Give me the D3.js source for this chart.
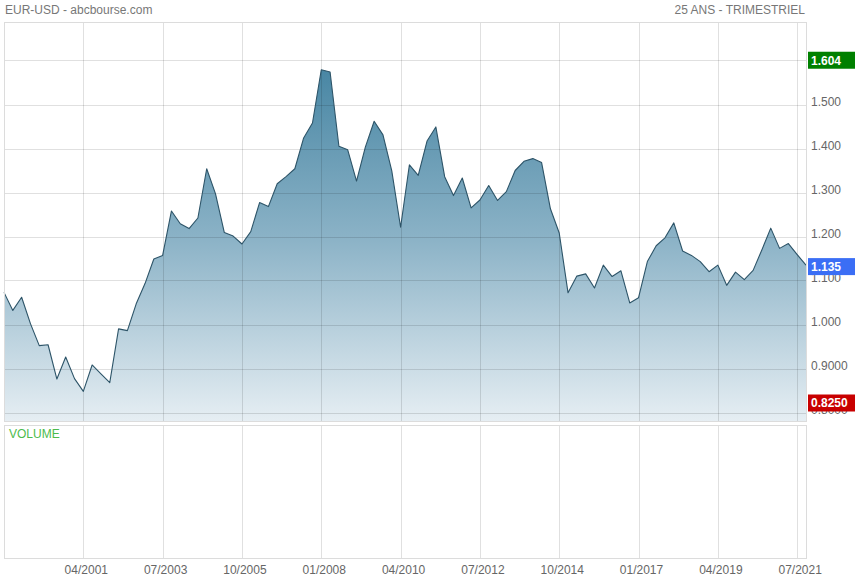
<!DOCTYPE html>
<html><head><meta charset="utf-8">
<script src="https://cdn.jsdelivr.net/npm/d3@7"></script>
<style>html,body{margin:0;padding:0;background:#fff;}svg{display:block;font-family:Arial,"Liberation Sans",sans-serif;}</style>
</head><body><svg id="c" width="855" height="580"></svg>
<script>
const quarters = ["01/1999","04/1999","07/1999","10/1999","01/2000","04/2000","07/2000","10/2000",
"01/2001","04/2001","07/2001","10/2001","01/2002","04/2002","07/2002","10/2002",
"01/2003","04/2003","07/2003","10/2003","01/2004","04/2004","07/2004","10/2004",
"01/2005","04/2005","07/2005","10/2005","01/2006","04/2006","07/2006","10/2006",
"01/2007","04/2007","07/2007","10/2007","01/2008","04/2008","07/2008","10/2008",
"01/2009","04/2009","07/2009","10/2009","01/2010","04/2010","07/2010","10/2010",
"01/2011","04/2011","07/2011","10/2011","01/2012","04/2012","07/2012","10/2012",
"01/2013","04/2013","07/2013","10/2013","01/2014","04/2014","07/2014","10/2014",
"01/2015","04/2015","07/2015","10/2015","01/2016","04/2016","07/2016","10/2016",
"01/2017","04/2017","07/2017","10/2017","01/2018","04/2018","07/2018","10/2018",
"01/2019","04/2019","07/2019","10/2019","01/2020","04/2020","07/2020","10/2020",
"01/2021","04/2021","07/2021","10/2021"];
const closes = [1.073,1.032,1.062,1.002,0.952,0.954,0.876,0.926,
0.877,0.848,0.908,0.888,0.868,0.990,0.986,1.047,
1.093,1.149,1.157,1.258,1.229,1.218,1.242,1.354,
1.297,1.209,1.201,1.183,1.211,1.277,1.268,1.320,
1.336,1.354,1.424,1.458,1.579,1.574,1.405,1.397,
1.326,1.403,1.462,1.431,1.349,1.221,1.363,1.339,
1.417,1.449,1.336,1.293,1.333,1.265,1.283,1.316,
1.282,1.302,1.350,1.371,1.377,1.368,1.263,1.208,
1.072,1.110,1.115,1.083,1.135,1.109,1.122,1.049,
1.061,1.143,1.179,1.197,1.231,1.167,1.157,1.143,
1.120,1.135,1.089,1.119,1.102,1.123,1.170,1.219,
1.173,1.184,1.159,1.135];
const xTicks = ["04/2001","07/2003","10/2005","01/2008","04/2010","07/2012","10/2014","01/2017","04/2019","07/2021"];
const yTicks = [0.8,0.9,1.0,1.1,1.2,1.3,1.4,1.5,1.6];
const yTickLabels = ["0.8000","0.9000","1.000","1.100","1.200","1.300","1.400","1.500",""];
const markers = [{label:"1.604",value:1.604,color:"#008000"},{label:"1.135",value:1.135,color:"#3b6ef5"},{label:"0.8250",value:0.825,color:"#c80000"}];
const titleLeft = "EUR-USD - abcbourse.com";
const titleRight = "25 ANS - TRIMESTRIEL";
const volumeLabel = "VOLUME";

const svg = d3.select("#c");
const L=4.5, R=806.5, T=22.5, B=421.5, VT=425.5, VB=558.5;
const x = d3.scalePoint().domain(quarters).range([4, 806]);
const y = d3.scaleLinear().domain([1.6 - (421-60.5)/440, 1.6 + (60.5-22)/440]).range([421, 22]);

svg.append("text").attr("x",5).attr("y",14).attr("fill","#777").attr("font-size",12).text(titleLeft);
svg.append("text").attr("x",805).attr("y",14).attr("text-anchor","end").attr("fill","#777").attr("font-size",12).text(titleRight);

const defs = svg.append("defs");
const g = defs.append("linearGradient").attr("id","fillg").attr("gradientUnits","userSpaceOnUse")
  .attr("x1",0).attr("y1",60).attr("x2",0).attr("y2",421);
g.append("stop").attr("offset","0").attr("stop-color","#4584a2");
g.append("stop").attr("offset","0.5").attr("stop-color","#8cb3c7");
g.append("stop").attr("offset","1").attr("stop-color","#e6eef3");
defs.append("clipPath").attr("id","clipm").append("rect").attr("x",4).attr("y",22).attr("width",802).attr("height",399);

const area = d3.area().x(d=>x(d.q)).y0(421).y1(d=>y(d.v));
const line = d3.line().x(d=>x(d.q)).y(d=>y(d.v));
const data = quarters.map((q,i)=>({q, v:closes[i]}));
svg.append("path").datum(data).attr("d",area).attr("fill","url(#fillg)").attr("clip-path","url(#clipm)");

const grid = svg.append("g").attr("stroke","rgba(0,0,0,0.12)").attr("stroke-width",1);
yTicks.forEach(v=>{ const yy=Math.round(y(v))+0.5; grid.append("line").attr("x1",L).attr("x2",R).attr("y1",yy).attr("y2",yy); });
xTicks.forEach(q=>{ const xx=Math.round(x(q))+0.5;
  grid.append("line").attr("x1",xx).attr("x2",xx).attr("y1",T).attr("y2",B);
  grid.append("line").attr("x1",xx).attr("x2",xx).attr("y1",VT).attr("y2",VB);
});

svg.append("path").datum(data).attr("d",line).attr("fill","none").attr("stroke","#2d5468").attr("stroke-width",1.1).attr("stroke-linejoin","round");

svg.append("rect").attr("x",L).attr("y",T).attr("width",R-L).attr("height",B-T).attr("fill","none").attr("stroke","#dcdcdc");
svg.append("rect").attr("x",L).attr("y",VT).attr("width",R-L).attr("height",VB-VT).attr("fill","none").attr("stroke","#dcdcdc");

yTicks.forEach((v,i)=>{
  if (!yTickLabels[i]) return;
  svg.append("text").attr("x",811).attr("y",y(v)-3).attr("dy","0.35em").attr("fill","#666").attr("font-size",12).text(yTickLabels[i]);
});
xTicks.forEach(q=>{
  svg.append("text").attr("x",x(q)+3).attr("y",574).attr("text-anchor","middle").attr("fill","#666").attr("font-size",12).text(q);
});

svg.append("text").attr("x",9).attr("y",438).attr("fill","#4cbb4c").attr("font-size",12).text(volumeLabel);

markers.forEach(m=>{
  const cy = y(m.value)+1.5;
  svg.append("rect").attr("x",808).attr("y",cy-8.5).attr("width",47).attr("height",17).attr("fill",m.color);
  svg.append("text").attr("x",811).attr("y",cy).attr("dy","0.36em").attr("fill","#fff").attr("font-size",12).attr("font-weight","bold").text(m.label);
});
</script></body></html>
